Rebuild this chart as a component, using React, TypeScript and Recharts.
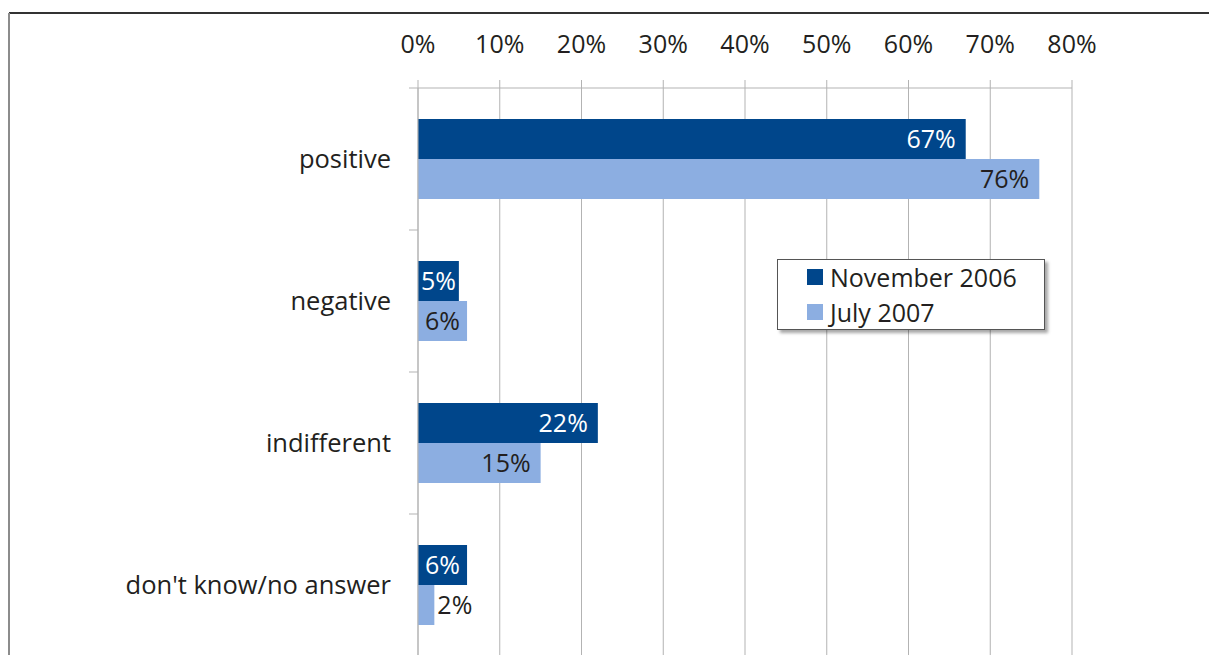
import React from 'react';
import { BarChart, Bar, XAxis, YAxis, CartesianGrid, Legend, LabelList } from 'recharts';

const categories = ['positive', 'negative', 'indifferent', "don't know/no answer"];
const november2006 = [67, 5, 22, 6];
const july2007 = [76, 6, 15, 2];
const xTicks = [0, 10, 20, 30, 40, 50, 60, 70, 80];

const seriesNames = ['November 2006', 'July 2007'];
const colors = ['#00468b', '#8caee1'];

const data = categories.map((name, i) => ({ name, nov: november2006[i], jul: july2007[i] }));

const gridColor = '#b3b3b3';
const textColor = '#231f20';
const fontFamily = '"Open Sans", "Noto Sans", sans-serif';

// label sits inside the end of the bar when it fits, otherwise just past it
const makeLabel = (insideFill: string) => (props: any) => {
    const vb = props.viewBox || props;
    const { x, y, width, height } = vb;
    const text = `${props.value}%`;
    const textW = (text.length - 1) * 14.3 + 20.6;
    const inside = width >= textW + 4;
    const pad = Math.min(10, (width - textW) / 2);
    const tx = inside ? x + width - pad : x + width + 3;
    return (
        <text
            x={tx}
            y={y + height / 2 + 9}
            textAnchor={inside ? 'end' : 'start'}
            fill={inside ? insideFill : textColor}
            fontSize={25}
            fontFamily={fontFamily}
        >
            {text}
        </text>
    );
};

const CategoryTick = (props: any) => {
    const { x, y, payload, index, visibleTicksCount } = props;
    const half = payload && typeof payload.offset === 'number' ? payload.offset : 0;
    return (
        <g>
            <line x1={x + 18} x2={x + 27} y1={y - half} y2={y - half} stroke={gridColor} strokeWidth={1} />
            {index === visibleTicksCount - 1 && (
                <line x1={x + 18} x2={x + 27} y1={y + half} y2={y + half} stroke={gridColor} strokeWidth={1} />
            )}
            <text x={x} y={y + 9} textAnchor="end" fill={textColor} fontSize={25.5} fontFamily={fontFamily}>
                {payload.value}
            </text>
        </g>
    );
};

const LegendBox = () => (
    <div
        style={{
            width: 268,
            height: 71,
            boxSizing: 'border-box',
            border: '1px solid #555',
            background: '#fff',
            boxShadow: '3px 3px 3px rgba(0,0,0,0.35)',
            paddingLeft: 29,
            fontFamily,
            fontSize: 25,
            color: textColor,
        }}
    >
        {seriesNames.map((n, i) => (
            <div key={n} style={{ display: 'flex', alignItems: 'center', height: i === 0 ? 34 : 35 }}>
                <span style={{ width: 16, height: 16, background: colors[i], marginRight: 7, display: 'inline-block' }} />
                {n}
            </div>
        ))}
    </div>
);

export default function App() {
    return (
        <div
            style={{
                position: 'fixed',
                left: 0,
                top: 0,
                width: 1209,
                height: 655,
                overflow: 'hidden',
                background: '#fff',
                fontFamily,
            }}
        >
            <div style={{ position: 'absolute', left: 9, top: 12, width: 1200, height: 2, background: '#333' }} />
            <div style={{ position: 'absolute', left: 8, top: 13, width: 2, height: 642, background: '#8c8c8c' }} />
            <div style={{ position: 'absolute', left: 0, top: 0 }}>
                <BarChart
                    width={1209}
                    height={656}
                    data={data}
                    layout="vertical"
                    margin={{ top: 0, right: 137, bottom: 0, left: 0 }}
                    barGap={0}
                >
                    <CartesianGrid horizontal={false} stroke={gridColor} />
                    <XAxis
                        type="number"
                        orientation="top"
                        domain={[0, 80]}
                        ticks={xTicks}
                        tickFormatter={(v: number) => `${v}%`}
                        height={88}
                        tickSize={8}
                        tickMargin={27}
                        stroke={gridColor}
                        tick={{ fill: textColor, fontSize: 25, fontFamily }}
                        interval={0}
                    />
                    <YAxis
                        type="category"
                        dataKey="name"
                        width={418}
                        tickLine={false}
                        tickSize={9}
                        tickMargin={18}
                        stroke={gridColor}
                        tick={<CategoryTick />}
                        interval={0}
                    />
                    <Legend
                        layout="vertical"
                        align="center"
                        verticalAlign="middle"
                        content={<LegendBox />}
                        wrapperStyle={{ position: 'absolute', left: 777, top: 259, width: 268, height: 71 }}
                    />
                    <Bar dataKey="nov" name={seriesNames[0]} fill={colors[0]} barSize={40} isAnimationActive={false}>
                        <LabelList dataKey="nov" content={makeLabel('#ffffff')} />
                    </Bar>
                    <Bar dataKey="jul" name={seriesNames[1]} fill={colors[1]} barSize={40} isAnimationActive={false}>
                        <LabelList dataKey="jul" content={makeLabel(textColor)} />
                    </Bar>
                </BarChart>
            </div>
        </div>
    );
}
